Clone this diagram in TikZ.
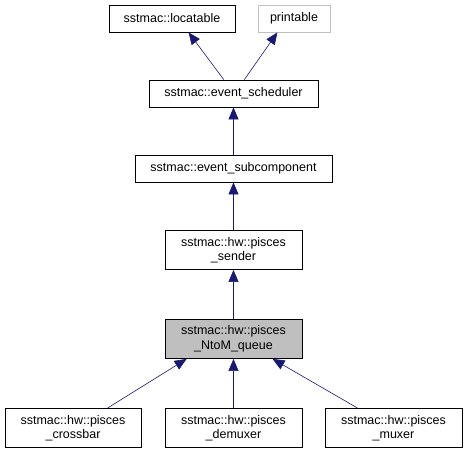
\documentclass[tikz,border=0pt]{standalone}
\usepackage{fontspec}
\setmainfont{Liberation Sans}
\usepackage{tikz}
\usetikzlibrary{arrows.meta, positioning}
\definecolor{edgeblue}{RGB}{25,25,112}
\definecolor{boxgray}{RGB}{191,191,191}
\definecolor{lightline}{RGB}{191,191,191}

\begin{document}
\begin{tikzpicture}[x=1pt,y=-1pt,
  cls/.style={draw,thick,rectangle,minimum height=27pt,inner sep=2pt,align=center,
    font=\fontsize{12.5}{14.5}\selectfont},
  twoline/.style={cls,minimum height=39pt},
  edge/.style={edgeblue,semithick,{Triangle[length=12pt,width=10pt]}-}]
\useasboundingbox (0,0) rectangle (467,455);

% Top row
\node[cls,minimum width=126pt] (locatable) at (172,18.5) {sstmac::locatable};
\node[cls,draw=lightline,minimum width=72pt] (printable) at (294,18.5) {printable};

% Middle chain
\node[cls,minimum width=169pt] (sched) at (233.5,93.5) {sstmac::event\_scheduler};
\node[cls,minimum width=197pt] (subcomp) at (233.5,168.5) {sstmac::event\_subcomponent};
\node[twoline,minimum width=137pt] (sender) at (233.5,250) {sstmac::hw::pisces\\\_sender};
\node[twoline,fill=boxgray,minimum width=137pt] (ntom) at (233.5,339) {sstmac::hw::pisces\\\_NtoM\_queue};

% Bottom row
\node[twoline,minimum width=136pt] (crossbar) at (73,428) {sstmac::hw::pisces\\\_crossbar};
\node[twoline,minimum width=137pt] (demuxer) at (233.5,428) {sstmac::hw::pisces\\\_demuxer};
\node[twoline,minimum width=137pt] (muxer) at (393.5,428) {sstmac::hw::pisces\\\_muxer};

% Inheritance arrows
\draw[edge] (locatable.-40) -- (sched.125);
\draw[edge] (printable.220) -- (sched.52);
\draw[edge] (sched) -- (subcomp);
\draw[edge] (subcomp) -- (sender);
\draw[edge] (sender) -- (ntom);
\draw[edge] (ntom.203) -- (crossbar.30);
\draw[edge] (ntom) -- (demuxer);
\draw[edge] (ntom.-27) -- (muxer.151);

\end{tikzpicture}
\end{document}
